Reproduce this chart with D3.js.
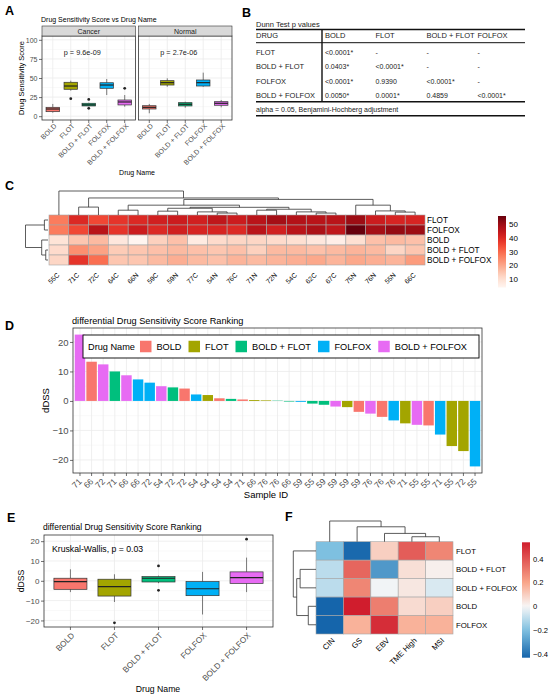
<!DOCTYPE html>
<html>
<head>
<meta charset="utf-8">
<script src="https://cdn.jsdelivr.net/npm/d3@7"></script>
<style>
  body { margin: 0; background: #fff; }
  text { font-family: "Liberation Sans", Arial, sans-serif; }
</style>
</head>
<body>
<div id="container"></div>
<script>
/* DATA */
const drugs = ["BOLD", "FLOT", "BOLD + FLOT", "FOLFOX", "BOLD + FOLFOX"];
const drugColors = ["#F8766D", "#A3A500", "#00BF7D", "#00B0F6", "#E76BF3"];

// A: box stats [lower whisker, q1, median, q3, upper whisker]
const facets = ["Cancer", "Normal"];
const facetP = ["p = 9.6e-09", "p = 2.7e-06"];
const cancerBox = [[4.6, 5.9, 9.4, 11.6, 16], [33.4, 35.2, 39.5, 44.4, 46.5], [13, 13.4, 14.8, 16.9, 17.5], [27.7, 36.5, 40.8, 43.8, 48.7], [12.4, 14.7, 18.6, 21.2, 27.7]];
const cancerOut = [[], [22.9], [22, 10.3], [], [36.5]];
const normalBox = [[3.8, 9.4, 11.6, 13.7, 16], [38.6, 40.8, 43.9, 46.5, 49.6], [11.1, 13.4, 15.6, 17.7, 19], [38.6, 39.5, 43.9, 47.4, 57], [11.6, 14.3, 16.9, 19, 21.2]];
const normalOut = [[], [], [], [], []];
const dssTicks = [0, 25, 50, 75, 100];

// B: Dunn test table
const dunnCols = ["DRUG", "BOLD", "FLOT", "BOLD + FLOT", "FOLFOX"];
const dunnRows = ["FLOT", "BOLD + FLOT", "FOLFOX", "BOLD + FOLFOX"];
const dunnP = [
  ["<0.0001*", "-", "-", "-"],
  ["0.0403*", "<0.0001*", "-", "-"],
  ["<0.0001*", "0.9390", "<0.0001*", "-"],
  ["0.0050*", "0.0001*", "0.4859", "<0.0001*"]
];
const dunnNote = "alpha = 0.05,  Benjamini-Hochberg adjustment";

// C: heatmap of DSS per sample
const sampleCols = ["55C", "71C", "72C", "64C", "66N", "59C", "59N", "77C", "54N", "76C", "71N", "72N", "54C", "62C", "67C", "75N", "76N", "55N", "66C"];
const heatRowsC = ["FLOT", "FOLFOX", "BOLD", "BOLD + FLOT", "BOLD + FOLFOX"];
const dssFLOT = [27, 40, 35, 38, 40, 42, 43, 42, 45, 43, 46, 49, 47, 46, 46, 50, 43, 41, 41];
const dssFOLFOX = [27, 35, 46, 38, 43, 40, 42, 41, 41, 40, 46, 42, 46, 48, 45, 56, 49, 51, 50];
const dssBOLD = [9, 15, 17, 8, 4, 13, 16, 7, 11, 12, 12, 11, 10, 8, 6, 10, 16, 17, 16];
const dssBoldFlot = [11, 24, 21, 14, 15, 16, 17, 16, 15, 16, 13, 17, 17, 16, 17, 18, 17, 12, 15];
const dssBoldFolfox = [12, 38, 29, 15, 15, 17, 19, 17, 16, 18, 17, 18, 19, 20, 18, 20, 19, 18, 22];
const heatTicksC = [10, 20, 30, 40, 50];
// dendrograms as [height, left, right]
const colTreeC = [100, "55C", [71, [33, "71C", "72C"], [65, [41, [20, "64C", "66N"], [32, [28, [16, "59C", "59N"], [13, "77C", [8, "54N", "76C"]]], [24, [20, "71N", "72N"], [13, "54C", [8, "62C", "67C"]]]]], [41, "75N", [17, "76N", [12, "55N", "66C"]]]]]];
const rowTreeC = [100, [16, "FLOT", "FOLFOX"], [28, "BOLD", [10, "BOLD + FLOT", "BOLD + FOLFOX"]]];

// D: differential DSS ranking
const dSamples = ["71", "66", "72", "71", "66", "66", "72", "54", "72", "72", "54", "54", "54", "54", "71", "66", "76", "76", "66", "59", "55", "59", "59", "59", "59", "76", "76", "76", "71", "55", "55", "71", "55", "72", "55"];
const dDrugs = ["BOLD + FOLFOX", "BOLD", "BOLD + FOLFOX", "BOLD + FLOT", "BOLD + FOLFOX", "FOLFOX", "FOLFOX", "BOLD + FOLFOX", "BOLD + FLOT", "BOLD", "FOLFOX", "FLOT", "BOLD", "BOLD + FLOT", "BOLD", "FLOT", "FLOT", "BOLD + FLOT", "BOLD + FLOT", "FOLFOX", "BOLD + FLOT", "BOLD + FLOT", "BOLD + FOLFOX", "FLOT", "BOLD", "BOLD + FOLFOX", "BOLD", "FOLFOX", "FLOT", "BOLD + FOLFOX", "BOLD", "FOLFOX", "FLOT", "FLOT", "FOLFOX"];
const dValues = [22.5, 13.3, 12.4, 10.0, 8.7, 7.3, 6.2, 5.0, 4.6, 4.2, 2.2, 2.0, 0.9, 0.7, 0.5, 0.3, 0.2, 0.1, -0.2, -0.3, -0.9, -1.3, -1.9, -2.1, -3.7, -4.3, -5.4, -6.6, -7.6, -8.1, -8.3, -11.4, -15.3, -17.0, -22.2];
const dTicks = [-20, -10, 0, 10, 20];

// E: dDSS by drug
const eBox = [[-5.7, -4.3, -0.4, 1.3, 5.8], [-10.7, -7.7, -2.9, 0.8, 3.3], [-1.2, -0.6, 1.3, 2.1, 2.6], [-17, -7.5, -4, -0.4, 4.5], [-5.7, -1.3, 1.6, 4.5, 11.7]];
const eOut = [[], [-21.2], [7.5, -4.8], [], [21]];
const eLabel = "Kruskal-Wallis, p = 0.03";

// F: correlation heatmap with molecular subtypes
const fCols = ["CIN", "GS", "EBV", "TME High", "MSI"];
const fRows = ["FLOT", "BOLD + FLOT", "BOLD + FOLFOX", "BOLD", "FOLFOX"];
const corFLOT = [-0.2, -0.42, 0.1, 0.38, 0.28];
const corBoldFlot = [-0.1, 0.36, -0.3, 0.06, 0.02];
const corBoldFolfox = [-0.1, 0.28, -0.01, 0.04, -0.05];
const corBOLD = [-0.43, 0.54, 0.3, 0.07, 0.1];
const corFOLFOX = [-0.43, 0.17, 0.5, 0.17, 0.17];
const corTicks = [-0.4, -0.2, 0, 0.2, 0.4];
const colTreeF = [100, "CIN", [72, "GS", [40, "EBV", [24, "TME High", "MSI"]]]];
const rowTreeF = [100, "FLOT", [85, [70, "BOLD + FLOT", "BOLD + FOLFOX"], [34, "BOLD", "FOLFOX"]]];

/* SETUP */
const W = 550, H = 699;
const colorScale = d3.scaleOrdinal().domain(drugs).range(drugColors);
const svg = d3.select("#container").append("svg")
  .attr("width", W).attr("height", H)
  .style("background", "#fff");

function txt(g, x, y, s, size, o = {}) {
  return g.append("text")
    .attr("x", x).attr("y", y)
    .attr("text-anchor", o.anchor || "start")
    .attr("fill", o.fill || "#000")
    .style("font-size", size + "px")
    .style("font-weight", o.weight || "normal")
    .text(s);
}

function midpoints(t) { return d3.pairs(t).map(([a, b]) => (a + b) / 2); }

// ggplot theme_bw-ish panel background and grid
function panelBg(g, x0, x1, y0, y1, y, major, xs) {
  g.append("rect").attr("x", x0).attr("y", y0).attr("width", x1 - x0).attr("height", y1 - y0).attr("fill", "#fff");
  midpoints(major).forEach(v => g.append("line").attr("x1", x0).attr("x2", x1).attr("y1", y(v)).attr("y2", y(v)).attr("stroke", "#F2F2F2").attr("stroke-width", 0.5));
  major.forEach(v => g.append("line").attr("x1", x0).attr("x2", x1).attr("y1", y(v)).attr("y2", y(v)).attr("stroke", "#EBEBEB").attr("stroke-width", 0.8));
  xs.forEach(v => g.append("line").attr("x1", v).attr("x2", v).attr("y1", y0).attr("y2", y1).attr("stroke", "#EBEBEB").attr("stroke-width", 0.8));
}
function panelBorder(g, x0, x1, y0, y1) {
  g.append("rect").attr("x", x0).attr("y", y0).attr("width", x1 - x0).attr("height", y1 - y0)
    .attr("fill", "none").attr("stroke", "#333").attr("stroke-width", 0.8);
}
function yAxis(g, x0, y, ticks, size) {
  const a = g.append("g").attr("transform", `translate(${x0},0)`)
    .call(d3.axisLeft(y).tickValues(ticks).tickSize(3).tickPadding(1.5));
  a.select(".domain").remove();
  a.selectAll(".tick line").attr("stroke", "#333").attr("stroke-width", 0.7);
  a.selectAll(".tick text").attr("fill", "#4D4D4D").style("font-size", size + "px")
    .style("font-family", '"Liberation Sans", Arial, sans-serif');
}
function xLabels(g, x, labels, y0, size, dx, dy) {
  labels.forEach((lab, i) => {
    const cx = x(i) + x.bandwidth() / 2;
    g.append("line").attr("x1", cx).attr("x2", cx).attr("y1", y0).attr("y2", y0 + 3).attr("stroke", "#333").attr("stroke-width", 0.7);
    g.append("text").attr("transform", `translate(${cx + dx},${y0 + dy}) rotate(-45)`)
      .attr("text-anchor", "end").attr("fill", "#4D4D4D").style("font-size", size + "px").text(lab);
  });
}
function drawBoxes(g, x, y, stats, outs) {
  drugs.forEach((dr, i) => {
    const [lo, q1, med, q3, hi] = stats[i];
    const bx = x(dr), bw = x.bandwidth(), cx = bx + bw / 2;
    g.append("line").attr("x1", cx).attr("x2", cx).attr("y1", y(hi)).attr("y2", y(q3)).attr("stroke", "#444").attr("stroke-width", 0.7);
    g.append("line").attr("x1", cx).attr("x2", cx).attr("y1", y(q1)).attr("y2", y(lo)).attr("stroke", "#444").attr("stroke-width", 0.7);
    g.append("rect").attr("x", bx).attr("y", y(q3)).attr("width", bw).attr("height", y(q1) - y(q3))
      .attr("fill", colorScale(dr)).attr("stroke", "#333").attr("stroke-width", 0.7);
    g.append("line").attr("x1", bx).attr("x2", bx + bw).attr("y1", y(med)).attr("y2", y(med)).attr("stroke", "#222").attr("stroke-width", 1.2);
    outs[i].forEach(v => g.append("circle").attr("cx", cx).attr("cy", y(v)).attr("r", 1.4).attr("fill", "#222"));
  });
}
// elbow dendrogram, returns [leaf position, height]
function drawTree(g, node, leafPos, hPos, top) {
  if (typeof node === "string") return [leafPos(node), 0];
  const [h, a, b] = node;
  const [pa, ha] = drawTree(g, a, leafPos, hPos, top);
  const [pb, hb] = drawTree(g, b, leafPos, hPos, top);
  const d = top
    ? `M${pa},${hPos(ha)}V${hPos(h)}H${pb}V${hPos(hb)}`
    : `M${hPos(ha)},${pa}H${hPos(h)}V${pb}H${hPos(hb)}`;
  g.append("path").attr("d", d).attr("fill", "none").attr("stroke", "#333").attr("stroke-width", 0.8);
  return [(pa + pb) / 2, h];
}
function colorLegend(g, id, color, x0, y0, y1, ticks, size) {
  const dom = color.domain();
  const lo = dom[0], hi = dom[dom.length - 1];
  const grad = svg.append("defs").append("linearGradient").attr("id", id)
    .attr("x1", 0).attr("y1", 1).attr("x2", 0).attr("y2", 0);
  d3.range(0, 1.0001, 0.05).forEach(t => grad.append("stop").attr("offset", t).attr("stop-color", color(lo + t * (hi - lo))));
  g.append("rect").attr("x", x0).attr("y", y0).attr("width", 8).attr("height", y1 - y0).attr("fill", `url(#${id})`);
  const s = d3.scaleLinear().domain([lo, hi]).range([y1, y0]);
  ticks.forEach(v => txt(g, x0 + 11, s(v) + size * 0.35, d3.format("~g")(v), size));
}

/* PANEL LETTERS */
[["A", 5, 15], ["B", 242, 17], ["C", 5, 190], ["D", 5, 330], ["E", 7, 522], ["F", 285, 521]]
  .forEach(([l, x, y]) => txt(svg, x, y, l, 12.5, { weight: "bold" }));

/* A: BOXPLOTS BY FACET */
const gA = svg.append("g");
const yA = d3.scaleLinear().domain([-5, 105]).range([120, 36]);
const facetX = [[42, 135.5], [138.5, 232]];
txt(gA, 41, 22, "Drug Sensitivity Score vs Drug Name", 7);
facets.forEach((f, fi) => {
  const [x0, x1] = facetX[fi];
  const x = d3.scaleBand().domain(drugs).range([x0, x1]).paddingInner(0.25).paddingOuter(0.225);
  panelBg(gA, x0, x1, 36, 120, yA, dssTicks, drugs.map(d => x(d) + x.bandwidth() / 2));
  drawBoxes(gA, x, yA, fi ? normalBox : cancerBox, fi ? normalOut : cancerOut);
  panelBorder(gA, x0, x1, 36, 120);
  gA.append("rect").attr("x", x0).attr("y", 26).attr("width", x1 - x0).attr("height", 10)
    .attr("fill", "#D9D9D9").attr("stroke", "#333").attr("stroke-width", 0.6);
  txt(gA, (x0 + x1) / 2, 33.5, f, 7, { anchor: "middle", fill: "#1A1A1A" });
  txt(gA, x("FLOT") + x.bandwidth() / 2 - 7, 55, facetP[fi], 7.3, { fill: "#222" });
  const xi = d3.scaleBand().domain(d3.range(drugs.length)).range(x.range()).paddingInner(0.25).paddingOuter(0.225);
  xLabels(gA, xi, drugs, 120, 7, 4.3, 6.5);
});
yAxis(gA, 42, yA, dssTicks, 7);
gA.append("text").attr("transform", "translate(23.5,78) rotate(-90)").attr("text-anchor", "middle")
  .style("font-size", "7.5px").text("Drug Sensitivity Score");
txt(gA, 137, 175, "Drug Name", 7, { anchor: "middle" });

/* B: DUNN TEST TABLE */
const gB = svg.append("g").attr("fill", "#222");
const colW = [67.5, 50.5, 51, 51, 49];
const colX = colW.map((w, i) => 256 + d3.sum(colW.slice(0, i)));
const rowY = d3.scalePoint().domain(dunnRows).range([55, 98.3]);
txt(gB, 256, 27.3, "Dunn Test p values", 7.5, { fill: "#222" });
const tableRight = 525;
[[29.5, 1.4], [42.7, 1], [101.7, 1.4], [115.7, 1.4]].forEach(([y, w]) =>
  gB.append("line").attr("x1", 256).attr("x2", tableRight).attr("y1", y).attr("y2", y).attr("stroke", "#111").attr("stroke-width", w));
gB.append("line").attr("x1", 322).attr("x2", 322).attr("y1", 29.5).attr("y2", 101.7).attr("stroke", "#111").attr("stroke-width", 1.4);
dunnCols.forEach((c, i) => txt(gB, colX[i] + (i ? 1.5 : 0), 38.3, c, 7.5, { fill: "#222" }));
dunnRows.forEach((r, ri) => {
  txt(gB, colX[0], rowY(r), r, 7.5, { fill: "#222" });
  dunnP[ri].forEach((p, ci) => txt(gB, colX[ci + 1] + 1.5, rowY(r), p, 7, { fill: "#222" }));
});
txt(gB, 256, 111.7, dunnNote, 7, { fill: "#222" });

/* C: HEATMAP */
const gC = svg.append("g");
const heatC = [dssFLOT, dssFOLFOX, dssBOLD, dssBoldFlot, dssBoldFolfox];
const xC = d3.scaleBand().domain(sampleCols).range([49, 425]);
const yC = d3.scaleBand().domain(heatRowsC).range([215, 265]);
const colorC = d3.scaleSequential(d3.interpolateReds).domain(d3.extent(heatC.flat()));
heatRowsC.forEach((r, ri) => sampleCols.forEach((c, ci) => {
  gC.append("rect").attr("x", xC(c)).attr("y", yC(r)).attr("width", xC.bandwidth()).attr("height", yC.bandwidth())
    .attr("fill", colorC(heatC[ri][ci])).attr("stroke", "#A6A6A6").attr("stroke-width", 0.6);
}));
heatRowsC.forEach(r => txt(gC, 427, yC(r) + yC.bandwidth() / 2 + 2.9, r, 8.2));
sampleCols.forEach(c => {
  const cx = xC(c) + xC.bandwidth() / 2;
  gC.append("text").attr("transform", `translate(${cx + 1},${275.5}) rotate(-45)`)
    .attr("text-anchor", "end").style("font-size", "6.8px").text(c);
});
const hColC = d3.scaleLinear().domain([0, 100]).range([215, 191]);
drawTree(gC, colTreeC, c => xC(c) + xC.bandwidth() / 2, hColC, true);
const hRowC = d3.scaleLinear().domain([0, 100]).range([48, 25.5]);
drawTree(gC, rowTreeC, r => yC(r) + yC.bandwidth() / 2, hRowC, false);
colorLegend(gC, "gradC", colorC, 498, 216, 287.5, heatTicksC, 8);

/* D: BAR RANKING */
const gD = svg.append("g");
const dX0 = 73, dX1 = 482, dY0 = 328, dY1 = 473;
const xD = d3.scaleBand().domain(d3.range(dValues.length)).range([dX0, dX1]).paddingInner(0.1).paddingOuter(0.15);
const extD = d3.extent(dValues), padD = (extD[1] - extD[0]) * 0.05;
const yD = d3.scaleLinear().domain([extD[0] - padD, extD[1] + padD]).range([dY1, dY0]);
txt(gD, 72, 324, "differential Drug Sensitivity Score Ranking", 9.2);
panelBg(gD, dX0, dX1, dY0, dY1, yD, dTicks, dValues.map((v, i) => xD(i) + xD.bandwidth() / 2));
gD.selectAll("rect.bar").data(dValues).join("rect").attr("class", "bar")
  .attr("x", (d, i) => xD(i)).attr("width", xD.bandwidth())
  .attr("y", d => Math.min(yD(d), yD(0))).attr("height", d => Math.abs(yD(d) - yD(0)))
  .attr("fill", (d, i) => colorScale(dDrugs[i]));
panelBorder(gD, dX0, dX1, dY0, dY1);
yAxis(gD, dX0, yD, dTicks, 9.5);
xLabels(gD, xD, dSamples, dY1, 8.6, 2.4, 9);
gD.append("text").attr("transform", `translate(49,${(dY0 + dY1) / 2}) rotate(-90)`).attr("text-anchor", "middle")
  .style("font-size", "9.5px").text("dDSS");
txt(gD, 266, 498, "Sample ID", 9.5, { anchor: "middle" });

// legend
const lg = gD.append("g");
const lgBox = lg.append("rect").attr("x", 83).attr("y", 335).attr("height", 23)
  .attr("fill", "#fff").attr("stroke", "#000").attr("stroke-width", 0.9);
const ly = 346.5;
let lx = 88;
lx += txt(lg, lx, ly + 3.3, "Drug Name", 9.2).node().getComputedTextLength() + 5;
drugs.forEach(dr => {
  lg.append("rect").attr("x", lx).attr("y", ly - 5.75).attr("width", 11.5).attr("height", 11.5).attr("fill", colorScale(dr));
  lx += 16.5;
  lx += txt(lg, lx, ly + 3.3, dr, 9.2).node().getComputedTextLength() + 7;
});
lgBox.attr("width", lx - 7 + 12 - 83);

/* E: BOXPLOT OF dDSS */
const gE = svg.append("g");
const eX0 = 44, eX1 = 273, eY0 = 535, eY1 = 627;
const xE = d3.scaleBand().domain(drugs).range([eX0, eX1]).paddingInner(0.25).paddingOuter(0.225);
const extE = d3.extent(eBox.flat().concat(eOut.flat())), padE = (extE[1] - extE[0]) * 0.05;
const yE = d3.scaleLinear().domain([extE[0] - padE, extE[1] + padE]).range([eY1, eY0]);
txt(gE, 43, 530, "differential Drug Sensitivity Score Ranking", 8.5);
panelBg(gE, eX0, eX1, eY0, eY1, yE, dTicks, drugs.map(d => xE(d) + xE.bandwidth() / 2));
drawBoxes(gE, xE, yE, eBox, eOut);
panelBorder(gE, eX0, eX1, eY0, eY1);
txt(gE, 52, 552, eLabel, 8.7);
yAxis(gE, eX0, yE, dTicks, 8);
const xEi = d3.scaleBand().domain(d3.range(drugs.length)).range([eX0, eX1]).paddingInner(0.25).paddingOuter(0.225);
xLabels(gE, xEi, drugs, eY1, 8.2, 4.6, 9);
gE.append("text").attr("transform", `translate(24,${(eY0 + eY1) / 2}) rotate(-90)`).attr("text-anchor", "middle")
  .style("font-size", "8.7px").text("dDSS");
txt(gE, 158, 692, "Drug Name", 8.7, { anchor: "middle" });

/* F: CORRELATION HEATMAP */
const gF = svg.append("g");
const heatF = [corFLOT, corBoldFlot, corBoldFolfox, corBOLD, corFOLFOX];
const xF = d3.scaleBand().domain(fCols).range([316, 453]);
const yF = d3.scaleBand().domain(fRows).range([541.7, 634]);
const extF = d3.extent(heatF.flat());
const colorF = d3.scaleLinear().domain([extF[0], -0.2, 0, 0.2, extF[1]])
  .range(["#1565AB", "#7EC0E0", "#F7F7F7", "#F9A68A", "#D01D2D"]);
fRows.forEach((r, ri) => fCols.forEach((c, ci) => {
  gF.append("rect").attr("x", xF(c)).attr("y", yF(r)).attr("width", xF.bandwidth()).attr("height", yF.bandwidth())
    .attr("fill", colorF(heatF[ri][ci])).attr("stroke", "#A6A6A6").attr("stroke-width", 0.6);
}));
fRows.forEach(r => txt(gF, 456, yF(r) + yF.bandwidth() / 2 + 2.8, r, 7.8));
fCols.forEach(c => {
  const cx = xF(c) + xF.bandwidth() / 2;
  gF.append("text").attr("transform", `translate(${cx + 5.5},${641}) rotate(-45)`)
    .attr("text-anchor", "end").style("font-size", "7.8px").text(c);
});
const hColF = d3.scaleLinear().domain([0, 100]).range([541.7, 521]);
drawTree(gF, colTreeF, c => xF(c) + xF.bandwidth() / 2, hColF, true);
const hRowF = d3.scaleLinear().domain([0, 100]).range([316, 293.3]);
drawTree(gF, rowTreeF, r => yF(r) + yF.bandwidth() / 2, hRowF, false);
colorLegend(gF, "gradF", colorF, 522, 542.3, 657.7, corTicks, 7.6);
</script>
</body>
</html>
